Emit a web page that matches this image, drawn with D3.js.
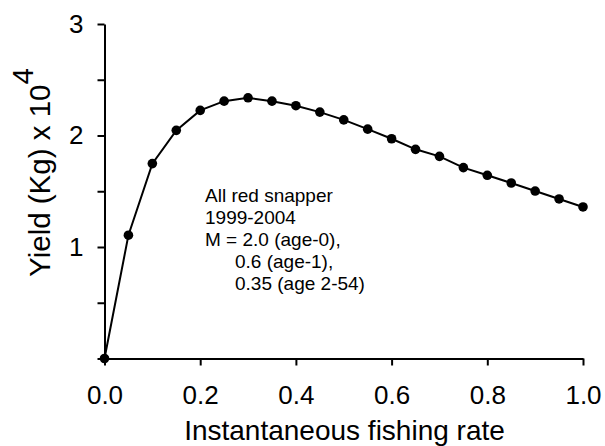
<!DOCTYPE html>
<html>
<head>
<meta charset="utf-8">
<script src="https://cdn.jsdelivr.net/npm/d3@7"></script>
<style>
  html, body { margin: 0; padding: 0; background: #fff; }
  svg { display: block; }
  text { font-family: "Liberation Sans", Arial, sans-serif; fill: #000; }
</style>
</head>
<body>
<svg id="chart" width="605" height="446"></svg>
<script>
// Data
const fishingRate = [0, 0.05, 0.1, 0.15, 0.2, 0.25, 0.3, 0.35, 0.4, 0.45, 0.5,
                     0.55, 0.6, 0.65, 0.7, 0.75, 0.8, 0.85, 0.9, 0.95, 1.0];
const yieldValues = [0, 1.106, 1.748, 2.046, 2.225, 2.308, 2.338, 2.308, 2.267, 2.21, 2.14,
                     2.057, 1.971, 1.876, 1.813, 1.712, 1.643, 1.574, 1.502, 1.431, 1.359];
const xTicks = [0, 0.2, 0.4, 0.6, 0.8, 1.0];
const yTicks = [0, 0.5, 1, 1.5, 2, 2.5, 3];
const yTickLabels = ["", "", "1", "", "2", "", "3"];
const annotationLines = ["All red snapper", "1999-2004", "M = 2.0 (age-0),", "0.6 (age-1),", "0.35 (age 2-54)"];
const annotationIndent = [0, 0, 0, 1, 1];

const svg = d3.select("#chart");
const x = d3.scaleLinear().domain([0, 1]).range([104.5, 583]);
const y = d3.scaleLinear().domain([0, 3]).range([358.5, 24]);

// axes
const xAxis = d3.axisBottom(x).tickValues(xTicks).tickFormat(d3.format(".1f"))
  .tickSize(7).tickSizeOuter(0).tickPadding(20);
const yAxis = d3.axisLeft(y).tickValues(yTicks)
  .tickFormat((d, i) => yTickLabels[i]).tickSize(7).tickSizeOuter(0).tickPadding(14);

const gx = svg.append("g").attr("transform", `translate(0,${y(0)})`).call(xAxis);
const gy = svg.append("g").attr("transform", `translate(${x(0)},0)`).call(yAxis);
[gx, gy].forEach(g => {
  g.selectAll("path.domain").attr("stroke", "#000").attr("stroke-width", 2);
  g.selectAll(".tick line").attr("stroke", "#000").attr("stroke-width", 2);
  g.selectAll(".tick text").attr("font-size", 26).attr("font-family", "Liberation Sans, Arial, sans-serif").attr("fill", "#000");
});

// line
const line = d3.line().x((d, i) => x(fishingRate[i])).y(d => y(d));
svg.append("path").datum(yieldValues)
  .attr("d", line).attr("fill", "none").attr("stroke", "#000").attr("stroke-width", 2);

svg.append("g").selectAll("circle").data(yieldValues).join("circle")
  .attr("cx", (d, i) => x(fishingRate[i])).attr("cy", d => y(d)).attr("r", 4.8).attr("fill", "#000");

// axis titles
svg.append("text").attr("x", 344.5).attr("y", 439.5).attr("text-anchor", "middle")
  .attr("font-size", 28).text("Instantaneous fishing rate");

const yt = svg.append("text").attr("transform", "translate(50,172.5) rotate(-90)")
  .attr("text-anchor", "middle").attr("font-size", 29.5);
yt.append("tspan").text("Yield (Kg) x 10");
yt.append("tspan").attr("dy", -17).text("4");

// annotation
const ann = svg.append("text").attr("font-size", 19);
ann.selectAll("tspan").data(annotationLines).join("tspan")
  .attr("x", (d, i) => 205 + annotationIndent[i] * 30)
  .attr("y", (d, i) => 202 + i * 22)
  .text(d => d);
</script>
</body>
</html>
